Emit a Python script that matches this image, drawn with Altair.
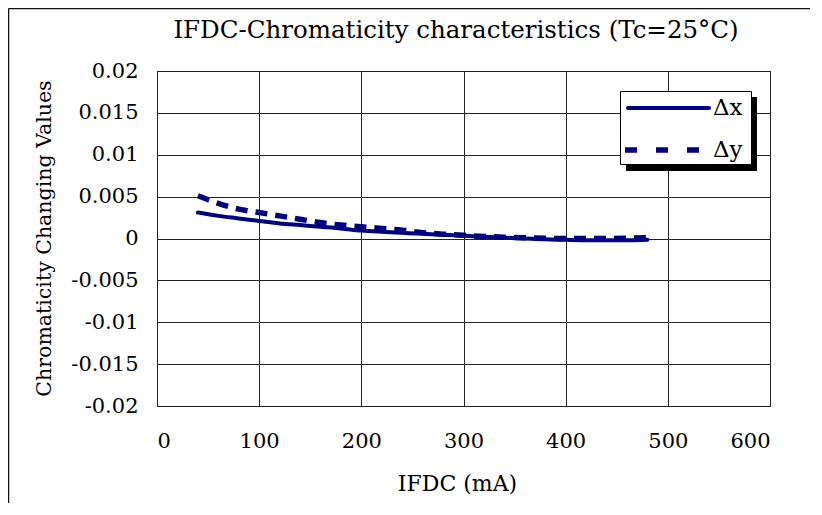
import altair as alt
import pandas as pd

# ---- data ----
current = [40, 60, 80, 100, 120, 140, 160, 180, 200, 220, 240, 260,
           280, 300, 320, 340, 360, 380, 400, 420, 440, 460, 480]
delta_x = [0.0031, 0.0027, 0.0024, 0.0021, 0.0018, 0.0016, 0.0014, 0.0012,
           0.00095, 0.0008, 0.00068, 0.00056, 0.00045, 0.00032, 0.0002, 0.0001,
           0.0, -0.0001, -0.00015, -0.0002, -0.0002, -0.0002, -0.00015]
delta_y = [0.0051, 0.0042, 0.0035, 0.0031, 0.0027, 0.0023, 0.0019, 0.0016,
           0.0014, 0.0012, 0.0010, 0.0007, 0.00052, 0.00038, 0.00025, 0.00015,
           0.00008, 0.00003, 0.0, 0.0, 0.0, 0.00003, 0.0001]
series_names = ["Δx", "Δy"]
title_text = "IFDC-Chromaticity characteristics (Tc=25°C)"
x_title = "IFDC (mA)"
y_title = "Chromaticity Changing Values"
x_ticks = [0, 100, 200, 300, 400, 500, 600]
y_ticks = [-0.02, -0.015, -0.01, -0.005, 0, 0.005, 0.01, 0.015, 0.02]

n = len(current)
df = pd.DataFrame({
    "current": current + current,
    "value": delta_x + delta_y,
    "series": [series_names[0]] * n + [series_names[1]] * n,
})

FONT = "DejaVu Serif"
NAVY = "#000080"
W, H = 613, 335

x_enc = alt.X("current:Q",
              scale=alt.Scale(domain=[0, 600], nice=False, zero=False),
              axis=alt.Axis(values=x_ticks, title=x_title, grid=True,
                            labelPadding=24, titleX=300, titleY=77,
                            titleFontSize=22,
                            titleBaseline="middle", titleAlign="center"))
y_enc = alt.Y("value:Q",
              scale=alt.Scale(domain=[-0.02, 0.02], nice=False),
              axis=alt.Axis(values=y_ticks, title=y_title, grid=True,
                            labelExpr="toString(datum.value)",
                            labelPadding=19, titleX=-113, titleY=167,
                            titleFontSize=20.5,
                            titleAngle=-90, titleBaseline="middle",
                            titleAlign="center"))

base = alt.Chart(df)
line_x = base.transform_filter(
    alt.FieldEqualPredicate(field="series", equal=series_names[0])
).mark_line(color=NAVY, strokeWidth=4, interpolate="monotone",
            strokeCap="round").encode(x=x_enc, y=y_enc)
line_y = base.transform_filter(
    alt.FieldEqualPredicate(field="series", equal=series_names[1])
).mark_line(color=NAVY, strokeWidth=5.5, interpolate="monotone",
            strokeDash=[12, 8]).encode(x="current:Q", y="value:Q")

one = pd.DataFrame({"k": [0]})

# outer frame (top and left edges)
frame_top = alt.Chart(one).mark_rule(color="#111", strokeWidth=1.5).encode(
    x=alt.value(-148.5), x2=alt.value(720), y=alt.value(-62.5))
frame_left = alt.Chart(one).mark_rule(color="#111", strokeWidth=1.5).encode(
    x=alt.value(-148.5), y=alt.value(-62.5), y2=alt.value(500))

# title as text
title = alt.Chart(pd.DataFrame({"t": [title_text]})).mark_text(
    font=FONT, fontSize=24.5, align="center", baseline="alphabetic", color="black"
).encode(x=alt.value(299), y=alt.value(-33), text="t:N")

# legend box with shadow
shadow = alt.Chart(one).mark_rect(color="black").encode(
    x=alt.value(469), x2=alt.value(600), y=alt.value(26), y2=alt.value(100))
box = alt.Chart(one).mark_rect(fill="white", stroke="black", strokeWidth=1).encode(
    x=alt.value(463.5), x2=alt.value(594.5), y=alt.value(20.5), y2=alt.value(93.5))
leg_solid = alt.Chart(one).mark_rule(color=NAVY, strokeWidth=4, strokeCap="round").encode(
    x=alt.value(471), x2=alt.value(552), y=alt.value(37))
leg_dash = alt.Chart(one).mark_rule(color=NAVY, strokeWidth=5.5, strokeDash=[12, 19]).encode(
    x=alt.value(468), x2=alt.value(554), y=alt.value(79))
leg_t1 = alt.Chart(pd.DataFrame({"label": [series_names[0]]})).mark_text(
    font=FONT, fontSize=23, align="left", baseline="middle", color="black"
).encode(x=alt.value(556), y=alt.value(37), text="label:N")
leg_t2 = alt.Chart(pd.DataFrame({"label": [series_names[1]]})).mark_text(
    font=FONT, fontSize=23, align="left", baseline="middle", color="black"
).encode(x=alt.value(556), y=alt.value(79), text="label:N")

chart = alt.layer(
    line_x, line_y, frame_top, frame_left, title,
    shadow, box, leg_solid, leg_dash, leg_t1, leg_t2
).properties(
    width=W, height=H,
    padding={"left": 149, "top": 63, "right": 40, "bottom": 97},
    autosize=alt.AutoSizeParams(type="none"),
).configure_view(
    stroke="black", strokeWidth=1
).configure_axis(
    labelFont=FONT, labelFontSize=21, labelColor="black",
    titleFont=FONT, titleFontWeight="normal", titleColor="black",
    domain=False, ticks=False, tickSize=0,
    gridColor="#222", gridWidth=1, gridOpacity=1,
)

chart.save("out.html", embed_options={"renderer": "svg", "actions": False})
